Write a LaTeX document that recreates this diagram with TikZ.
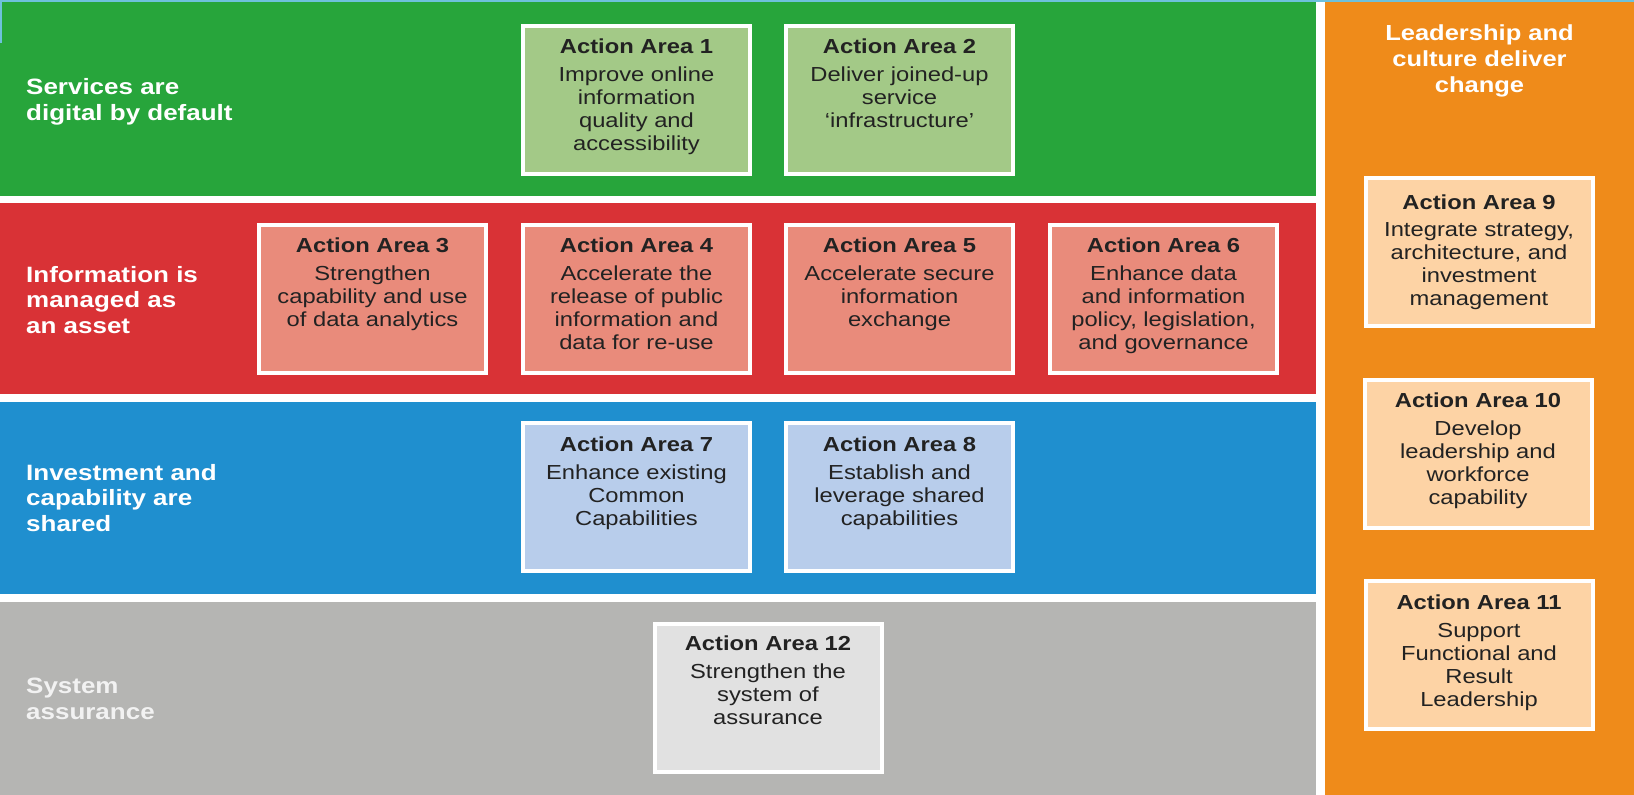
\documentclass[tikz,border=0pt]{standalone}
\usepackage{fontspec}
\newfontfamily\bx[FakeStretch=1.17]{Liberation Sans}
\definecolor{cgreen}{HTML}{27A53B}
\definecolor{cgreenbox}{HTML}{A3C987}
\definecolor{cred}{HTML}{D93236}
\definecolor{credbox}{HTML}{E98B7B}
\definecolor{cblue}{HTML}{1F8FCF}
\definecolor{cbluebox}{HTML}{B8CDEB}
\definecolor{cgray}{HTML}{B5B5B3}
\definecolor{cgraybox}{HTML}{E1E1E1}
\definecolor{corange}{HTML}{EF8B1A}
\definecolor{corangebox}{HTML}{FDD3A5}
\definecolor{ccyan}{HTML}{6EC1DC}
\definecolor{textdark}{HTML}{222222}
\begin{document}
\begin{tikzpicture}[x=1pt,y=-1pt,
  band/.style={anchor=north west, inner sep=0pt, outer sep=0pt, draw=none},
  aabox/.style={minimum width=227pt, minimum height=148pt, draw=white, line width=4pt, inner sep=0pt, outer sep=2pt},
  aatext/.style={anchor=north, align=center, inner sep=0pt, text=textdark, font=\bx\fontsize{20.3pt}{23pt}\selectfont},
  lbl/.style={anchor=west, align=left, text=white, inner sep=0pt, font=\bx\bfseries\fontsize{22.2pt}{25.5pt}\selectfont},
  hdr/.style={anchor=north, align=center, text=white, inner sep=0pt, font=\bx\bfseries\fontsize{21.8pt}{26pt}\selectfont}]
\useasboundingbox (0,0) rectangle (1634,795);
\fill[white] (0,0) rectangle (1634,795);
% bands
\node[band, fill=cgreen, minimum width=1316pt, minimum height=194pt] (bgreen) at (0,2) {};
\node[band, fill=cred, minimum width=1316pt, minimum height=191pt] (bred) at (0,203) {};
\node[band, fill=cblue, minimum width=1316pt, minimum height=192pt] (bblue) at (0,402) {};
\node[band, fill=cgray, minimum width=1316pt, minimum height=193pt] (bgray) at (0,602) {};
\node[band, fill=corange, minimum width=309pt, minimum height=793pt] (borange) at (1325,2) {};
\node[band, fill=ccyan, minimum width=1634pt, minimum height=2pt] (topline) at (0,0) {};
\node[band, fill=ccyan, minimum width=1.5pt, minimum height=43pt] (leftline) at (0,0) {};
% band labels
\node[lbl] (lgreen) at (26,102) {Services are\\digital by default};
\node[lbl] (lred) at (26,300) {Information is\\managed as\\an asset};
\node[lbl] (lblue) at (26,498) {Investment and\\capability are\\shared};
\node[lbl, text=white!95!black] (lgray) at (26,699) {System\\assurance};
\node[hdr] (lorange) at (1479.5,25) {Leadership and\\culture deliver\\change};
% boxes
\node[aabox, fill=cgreenbox] (a1) at (636.5,99.5) {};
\node[aabox, fill=cgreenbox] (a2) at (899.5,99.5) {};
\node[aabox, fill=credbox] (a3) at (372.5,298.5) {};
\node[aabox, fill=credbox] (a4) at (636.5,298.5) {};
\node[aabox, fill=credbox] (a5) at (899.5,298.5) {};
\node[aabox, fill=credbox] (a6) at (1163.5,298.5) {};
\node[aabox, fill=cbluebox] (a7) at (636.5,497) {};
\node[aabox, fill=cbluebox] (a8) at (899.5,497) {};
\node[aabox, fill=cgraybox] (a12) at (768,698) {};
\node[aabox, fill=corangebox] (a9) at (1479,252) {};
\node[aabox, fill=corangebox] (a10) at (1478,453.5) {};
\node[aabox, fill=corangebox] (a11) at (1479,655) {};
% box texts
\node[aatext] (t1) at ([yshift=-15.4pt]a1.north) {{\bfseries Action Area 1}\\[5pt]Improve online\\information\\quality and\\accessibility};
\node[aatext] (t2) at ([yshift=-15.4pt]a2.north) {{\bfseries Action Area 2}\\[5pt]Deliver joined-up\\service\\‘infrastructure’};
\node[aatext] (t3) at ([yshift=-15.4pt]a3.north) {{\bfseries Action Area 3}\\[5pt]Strengthen\\capability and use\\of data analytics};
\node[aatext] (t4) at ([yshift=-15.4pt]a4.north) {{\bfseries Action Area 4}\\[5pt]Accelerate the\\release of public\\information and\\data for re-use};
\node[aatext] (t5) at ([yshift=-15.4pt]a5.north) {{\bfseries Action Area 5}\\[5pt]Accelerate secure\\information\\exchange};
\node[aatext] (t6) at ([yshift=-15.4pt]a6.north) {{\bfseries Action Area 6}\\[5pt]Enhance data\\and information\\policy, legislation,\\and governance};
\node[aatext] (t7) at ([yshift=-15.4pt]a7.north) {{\bfseries Action Area 7}\\[5pt]Enhance existing\\Common\\Capabilities};
\node[aatext] (t8) at ([yshift=-15.4pt]a8.north) {{\bfseries Action Area 8}\\[5pt]Establish and\\leverage shared\\capabilities};
\node[aatext] (t12) at ([yshift=-13.4pt]a12.north) {{\bfseries Action Area 12}\\[5pt]Strengthen the\\system of\\assurance};
\node[aatext] (t9) at ([yshift=-19pt]a9.north) {{\bfseries Action Area 9}\\[4pt]Integrate strategy,\\architecture, and\\investment\\management};
\node[aatext] (t10) at ([yshift=-15.4pt]a10.north) {{\bfseries Action Area 10}\\[5pt]Develop\\leadership and\\workforce\\capability};
\node[aatext] (t11) at ([yshift=-15.4pt]a11.north) {{\bfseries Action Area 11}\\[5pt]Support\\Functional and\\Result\\Leadership};
\end{tikzpicture}
\end{document}
